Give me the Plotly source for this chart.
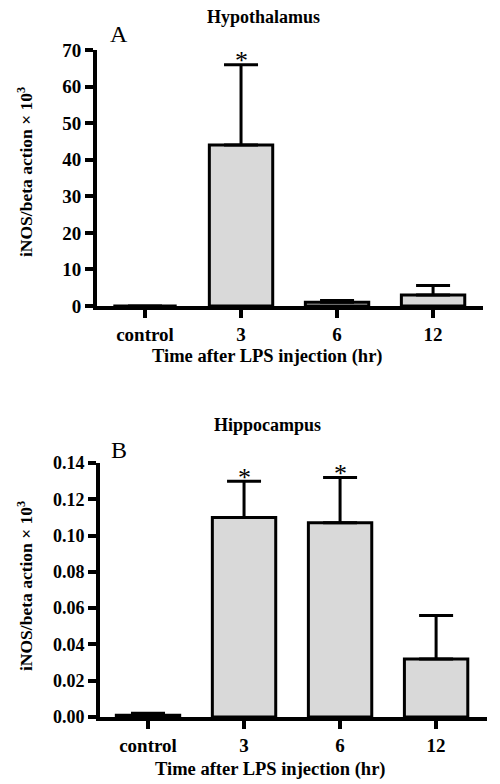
import plotly.graph_objects as go

categories = ["control", "3", "6", "12"]

hypo_mean = [0.0, 44.0, 1.0, 3.0]
hypo_err = [0.0, 22.0, 0.5, 2.6]
hypo_sig = [False, True, False, False]
hypo_ticks = [0, 10, 20, 30, 40, 50, 60, 70]

hippo_mean = [0.001, 0.110, 0.107, 0.032]
hippo_err = [0.001, 0.020, 0.025, 0.024]
hippo_sig = [False, True, True, False]
hippo_ticks = [0.00, 0.02, 0.04, 0.06, 0.08, 0.10, 0.12, 0.14]

# page body has an 8px margin; size the figure to fit the 500x784 window
OFF = 8
W, H = 500 - OFF, 784 - OFF
FONT = "Liberation Serif"
BAR_FILL = "#d9d9d9"

def px(sx):
    return (sx - OFF) / W

def py(sy):
    return 1 - (sy - OFF) / H

def bold(s):
    return f"<b>{s}</b>"

fig = go.Figure()

for mean, err, ax in [(hypo_mean, hypo_err, ""), (hippo_mean, hippo_err, "2")]:
    fig.add_trace(go.Bar(
        x=categories, y=mean,
        xaxis="x" + ax, yaxis="y" + ax,
        width=0.66,
        marker=dict(color=BAR_FILL, line=dict(color="black", width=3)),
        error_y=dict(type="data", array=err, arrayminus=[0] * len(err), symmetric=False,
                     color="black", thickness=3, width=17),
        showlegend=False,
    ))

def axis_common(size):
    return dict(showline=True, linecolor="black", linewidth=4, ticks="outside",
                tickwidth=3.5, ticklen=8, tickcolor="black", showgrid=False, zeroline=False,
                automargin=False,
                tickfont=dict(family=FONT, size=size, color="black"))

fig.update_layout(
    width=W, height=H,
    margin=dict(l=0, r=0, t=0, b=0, pad=0, autoexpand=False),
    plot_bgcolor="white", paper_bgcolor="white",
    xaxis=dict(domain=[px(97), px(483)], anchor="y", type="category",
               categoryorder="array", categoryarray=categories,
               tickvals=categories, ticktext=[bold(c) for c in categories],
               range=[-0.5, 3.52], **axis_common(19)),
    yaxis=dict(domain=[py(306), py(50)], anchor="x", range=[0, 70],
               tickvals=hypo_ticks, ticktext=[bold(str(v)) for v in hypo_ticks], **axis_common(19)),
    xaxis2=dict(domain=[px(100), px(487)], anchor="y2", type="category",
                categoryorder="array", categoryarray=categories,
                tickvals=categories, ticktext=[bold(c) for c in categories],
                range=[-0.5, 3.53], **axis_common(19)),
    yaxis2=dict(domain=[py(717), py(463)], anchor="x2", range=[0, 0.14],
                tickvals=hippo_ticks, ticktext=[bold(f"{v:.2f}") for v in hippo_ticks], **axis_common(18)),
)

ann = []

def add_text(text, x, y, size, angle=0):
    ann.append(dict(text=text, x=px(x), y=py(y), xref="paper", yref="paper",
                    xanchor="center", yanchor="middle", textangle=angle,
                    showarrow=False, font=dict(family=FONT, size=size, color="black")))

add_text(bold("Hypothalamus"), 263, 17, 18)
add_text(bold("Hippocampus"), 267, 425, 18)
add_text(bold("Time after LPS injection (hr)"), 267, 357, 18.5)
add_text(bold("Time after LPS injection (hr)"), 270, 769, 18.5)
ytitle = bold("iNOS/beta action × 10<sup>3</sup>")
add_text(ytitle, 25, 172, 17.5, -90)
add_text(ytitle, 25, 586, 17.5, -90)
add_text("A", 119, 34, 24)
add_text("B", 119, 450, 24)

for means, errs, sigs, xr, yr in [(hypo_mean, hypo_err, hypo_sig, "x", "y"),
                                   (hippo_mean, hippo_err, hippo_sig, "x2", "y2")]:
    for i, (m, e, s) in enumerate(zip(means, errs, sigs)):
        if s:
            ann.append(dict(text="*", x=i, y=m + e, xref=xr, yref=yr,
                            xanchor="center", yanchor="middle", yshift=4, showarrow=False,
                            font=dict(family=FONT, size=26, color="black")))

fig.update_layout(annotations=ann)
fig.write_html("out.html")
